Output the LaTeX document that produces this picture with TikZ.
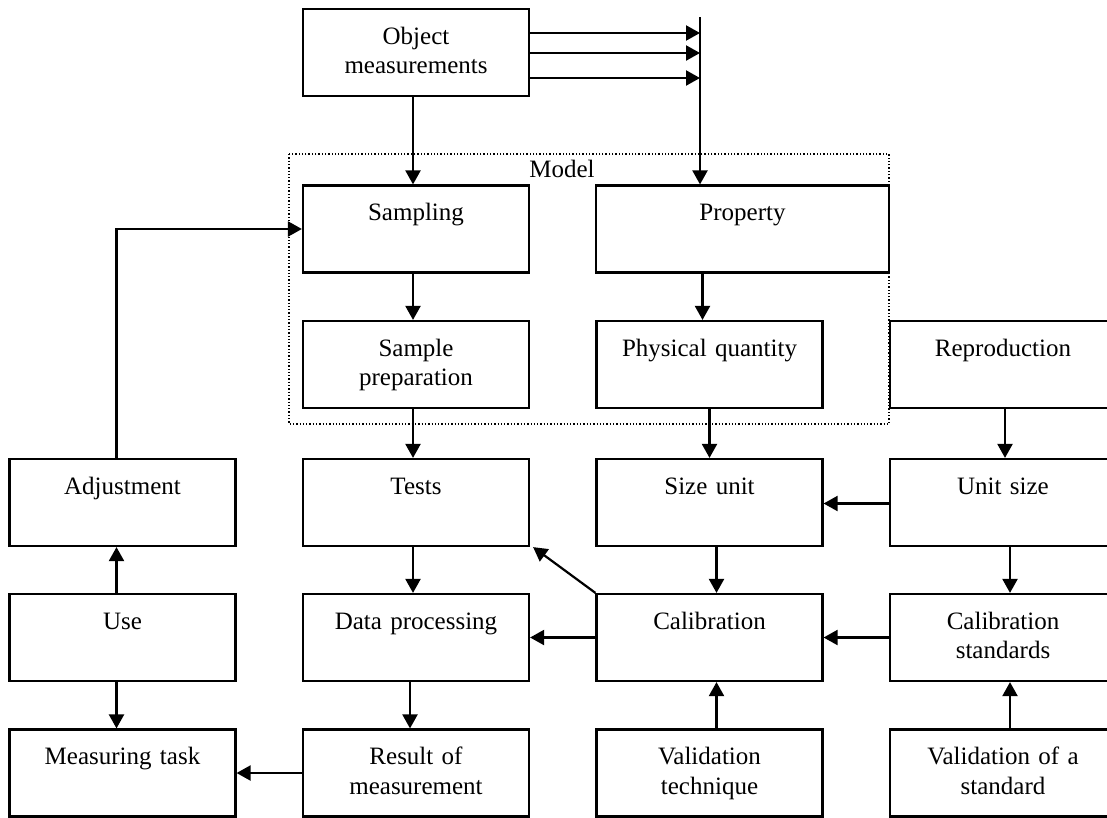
\documentclass[tikz,border=0pt]{standalone}
\usepackage{fontspec}
\setmainfont{Liberation Serif}
\usetikzlibrary{arrows.meta}
\begin{document}
\begin{tikzpicture}[x=1pt,y=-1pt,
  box/.style={draw, line width=2.2pt, minimum width=226pt, inner sep=0pt,
    text width=226pt, align=center, text height=35pt, text depth=52pt,
    font=\fontsize{25}{29.5}\selectfont},
  conn/.style={line width=2.2pt, -{Triangle[length=14pt,width=15pt]}},
  modelbox/.style={draw, line width=1.3pt, dotted}]
\useasboundingbox (0,0) rectangle (1107,817);
\clip (0,0) rectangle (1107,817);
% model frame
\draw[modelbox] (289,154) rectangle (889,424);
\node[anchor=base, font=\fontsize{25}{29.5}\selectfont] (model) at (562,177) {Model};
% boxes
\node[box] (obj) at (416,52.5) {Object\\measurements};
\node[box] (sampling) at (416,229) {Sampling};
\node[box, minimum width=293pt, text width=293pt] (prop) at (742.5,229) {Property};
\node[box] (prep) at (416,364.5) {Sample\\preparation};
\node[box] (phys) at (709.5,364.5) {Physical quantity};
\node[box] (repro) at (1003,364.5) {Reproduction};
\node[box] (adj) at (122.5,502.5) {Adjustment};
\node[box] (tests) at (416,502.5) {Tests};
\node[box] (sizeunit) at (709.5,502.5) {Size unit};
\node[box] (unitsize) at (1003,502.5) {Unit size};
\node[box] (use) at (122.5,637.5) {Use};
\node[box] (dataproc) at (416,637.5) {Data processing};
\node[box] (calib) at (709.5,637.5) {Calibration};
\node[box] (calstd) at (1003,637.5) {Calibration\\standards};
\node[box] (task) at (122.5,773) {Measuring task};
\node[box] (result) at (416,773) {Result of\\measurement};
\node[box] (valtech) at (709.5,773) {Validation\\technique};
\node[box] (valstd) at (1003,773) {Validation of a\\standard};
% bar and arrows from object
\coordinate (bartop) at (700,17);
\coordinate (b1) at (700,33);
\coordinate (b2) at (700,53);
\coordinate (b3) at (700,78);
\draw[conn] (bartop) -- (bartop |- prop.north);
\draw[conn] (obj.east |- b1) -- (b1);
\draw[conn] (obj.east |- b2) -- (b2);
\draw[conn] (obj.east |- b3) -- (b3);
\draw[conn] ([xshift=-3pt]obj.south) -- ([xshift=-3pt]sampling.north);
% connectors
\draw[conn] ([xshift=-6pt]adj.north) |- (sampling.west);
\draw[conn] ([xshift=-3pt]sampling.south) -- ([xshift=-3pt]prep.north);
\draw[conn] ([xshift=-3pt]prep.south) -- ([xshift=-3pt]tests.north);
\draw[conn] ([xshift=-7pt]phys.north |- prop.south) -- ([xshift=-7pt]phys.north);
\draw[conn] (phys.south) -- (sizeunit.north);
\draw[conn] ([xshift=2pt]repro.south) -- ([xshift=2pt]unitsize.north);
\draw[conn] ([yshift=-1pt]unitsize.west) -- ([yshift=-1pt]sizeunit.east);
\draw[conn] ([xshift=7pt]sizeunit.south) -- ([xshift=7pt]calib.north);
\draw[conn] ([xshift=7pt]unitsize.south) -- ([xshift=7pt]calstd.north);
\draw[conn] ([xshift=-3pt]tests.south) -- ([xshift=-3pt]dataproc.north);
\draw[conn] (calib.north west) -- ([xshift=3pt]tests.south east);
\draw[conn] (calib.west) -- (dataproc.east);
\draw[conn] (calstd.west) -- (calib.east);
\draw[conn] ([xshift=-6pt]dataproc.south) -- ([xshift=-6pt]result.north);
\draw[conn] ([xshift=-6pt]use.north) -- ([xshift=-6pt]adj.south);
\draw[conn] ([xshift=-6pt]use.south) -- ([xshift=-6pt]task.north);
\draw[conn] (result.west) -- (task.east);
\draw[conn] ([xshift=7pt]valtech.north) -- ([xshift=7pt]calib.south);
\draw[conn] ([xshift=7pt]valstd.north) -- ([xshift=7pt]calstd.south);
\end{tikzpicture}
\end{document}
